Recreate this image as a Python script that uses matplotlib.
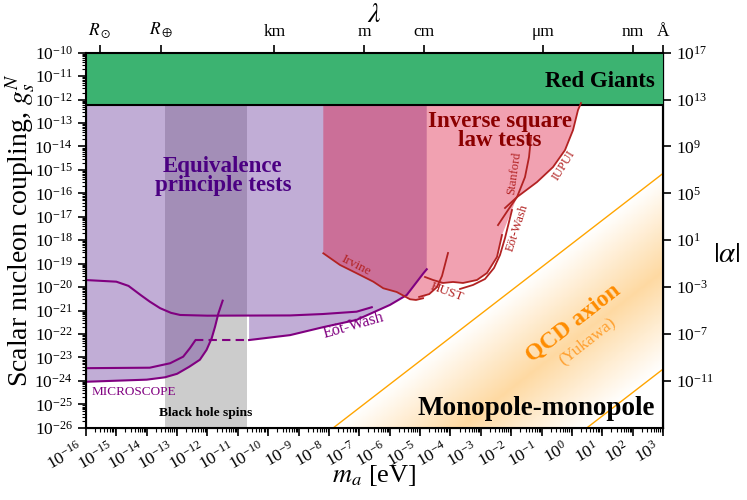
import numpy as np
import matplotlib
matplotlib.use("Agg")
import matplotlib.pyplot as plt
from matplotlib.colors import LinearSegmentedColormap
from matplotlib.ticker import FixedLocator, NullLocator, LogFormatterSciNotation, LogLocator

plt.rcParams['font.family'] = ['Liberation Serif', 'DejaVu Serif']
plt.rcParams['mathtext.fontset'] = 'stix'

# everything below is log10(m_a / eV) and log10(g_s^N)
log_rg = -12.23                 # red giants bound
bh_spins = [-13.40, -10.70]     # black hole superradiance window

# MICROSCOPE (lowest purple curve)
mic_m = np.array([-16, -14.0, -13.4, -13.0, -12.6, -12.25, -12.03, -11.86, -11.75, -11.64, -11.50])
mic_g = np.array([-24.04, -23.95, -23.85, -23.7, -23.4, -23.1, -22.68, -22.18, -21.69, -21.12, -20.58])

# second purple curve (flat then rising, left part)
ep2_m = np.array([-16, -13.9, -13.23, -12.80, -12.58, -12.41])
ep2_g = np.array([-23.46, -23.44, -23.25, -22.97, -22.61, -22.29])
ep2_dash_m = np.array([-12.41, -10.63])
ep2_dash_g = np.array([-22.27, -22.27])

# Eot-Wash (purple, solid part)
ew_m = np.array([-10.63, -9.28, -8.19, -7.09, -5.99, -5.44, -4.89, -4.78])
ew_g = np.array([-22.26, -22.05, -21.71, -21.40, -20.76, -20.34, -19.41, -19.24])

# third purple curve
ep3_m = np.array([-16, -15.0, -14.6, -14.2, -13.9, -13.56, -13.2, -12.9, -12.0, -9.28, -8.2, -7.09, -6.59])
ep3_g = np.array([-19.70, -19.77, -19.95, -20.34, -20.62, -20.90, -21.10, -21.19, -21.22, -21.21, -21.15, -21.05, -20.86])

# inverse square law tests (red curves)
irv_m = np.array([-8.186, -7.636, -7.087, -6.540, -6.211, -5.770, -5.331, -5.134, -4.903])
irv_g = np.array([-18.558, -19.057, -19.411, -19.770, -20.051, -20.209, -20.520, -20.550, -20.478])

hust_a_m = np.array([-4.080, -4.278, -4.443, -4.70, -5.03])
hust_a_g = np.array([-18.545, -19.527, -20.00, -20.30, -20.42])

hust_b_m = np.array([-4.838, -4.574, -4.245, -3.916, -3.587, -3.126, -2.796, -2.467, -2.302])
hust_b_g = np.array([-19.569, -19.697, -19.825, -19.782, -19.825, -19.697, -19.399, -18.716, -17.777])

ewr_m = np.array([-3.685, -3.257, -2.862, -2.566, -2.368, -2.203, -2.072, -1.973])
ewr_g = np.array([-20.081, -19.910, -19.655, -19.186, -18.631, -17.906, -17.223, -16.711])

stan_m = np.array([-2.434, -2.105, -1.808, -1.545, -1.413, -1.347])
stan_g = np.array([-17.355, -16.715, -16.160, -15.307, -14.454, -13.600])

iupui_m = np.array([-2.203, -1.808, -1.150, -0.623, -0.228, 0.036, 0.200, 0.299])
iupui_g = np.array([-16.626, -16.160, -15.520, -14.880, -14.155, -13.302, -12.448, -12.150])

# QCD axion band: log g = log m + offset
qcd_hi = -18.15
qcd_lo = -26.50

# right axis |alpha| = g^2 * 1e37
alpha_scale = 1e37
alpha_ticks = [1e17, 1e13, 1e9, 1e5, 1e1, 1e-3, 1e-7, 1e-11]

# top axis, wavelength in metres
lam_lim = [10**9.308, 10**-10.002]
lam_ticks = [6.957e8, 6.371e6, 1e3, 1.0, 1e-2, 1e-6, 1e-9, 1e-10]
lam_labels = [r'$R_\odot$', r'$R_\oplus$', 'km', 'm', 'cm', 'μm', 'nm', 'Å']

c_purple = '#800080'
c_red = '#b22222'


def P(a):
    return 10.0**np.asarray(a)


fig = plt.figure(figsize=(7.47, 5.0), dpi=100)
ax = fig.add_axes([0.1151, 0.1446, 0.7725, 0.75])
ax.set_xscale('log')
ax.set_yscale('log')
ax.set_xlim(1e-16, 1e3)
ax.set_ylim(1e-26, 1e-10)

# black hole spins
ax.axvspan(P(bh_spins[0]), P(bh_spins[1]), color='#cccccc', lw=0, zorder=1)

# equivalence principle region
cut = mic_m < -11.66
ep_m = np.r_[mic_m[cut], -11.66, ew_m[0], ew_m, ew_m[-1], -16]
ep_g = np.r_[mic_g[cut], -21.22, -21.22, ew_g, log_rg, log_rg]
ax.fill(P(ep_m), P(ep_g), color='rebeccapurple', alpha=0.4, lw=0, zorder=2)

# inverse square law region
isl_m = np.r_[irv_m[0], irv_m, hust_b_m[2:], iupui_m[1:], iupui_m[-1]]
isl_g = np.r_[log_rg, irv_g, hust_b_g[2:], iupui_g[1:], log_rg]
ax.fill(P(isl_m), P(isl_g), color='crimson', alpha=0.4, lw=0, zorder=3)

# QCD axion band with soft gradient (opaque colours, white at the edges)
lm_grid = np.linspace(-8.5, 3, 300)
lg_grid = np.linspace(-26, -14.5, 300)
LM, LG = np.meshgrid(lm_grid, lg_grid)
mid = 0.5 * (qcd_hi + qcd_lo)
half = 0.5 * (qcd_hi - qcd_lo)
w = 1 - np.abs((LG - LM) - mid) / half
w = np.ma.masked_where(w <= 0, w)
cmap = LinearSegmentedColormap.from_list('qcd', ['#ffffff', '#fed9a2'])
ax.pcolormesh(P(lm_grid), P(lg_grid), w, cmap=cmap, vmin=0, vmax=1, shading='nearest',
              zorder=1, rasterized=True)
for off in (qcd_hi, qcd_lo):
    xx = np.array([-26 - off, 3])
    ax.plot(P(xx), P(xx + off), color='orange', lw=1, zorder=2)

# red giants
ax.axhspan(P(log_rg), 1e-10, color='mediumseagreen', lw=0, zorder=4)
ax.axhline(P(log_rg), color='k', lw=1.5, zorder=5)

# purple curves
ax.plot(P(mic_m), P(mic_g), color=c_purple, lw=1.5, zorder=5)
ax.plot(P(ep2_m), P(ep2_g), color=c_purple, lw=1.5, zorder=5)
ax.plot(P(ep2_dash_m), P(ep2_dash_g), color=c_purple, lw=1.5, ls=(0, (4, 2.5)), zorder=5)
ax.plot(P(ew_m), P(ew_g), color=c_purple, lw=1.5, zorder=5)
ax.plot(P(ep3_m), P(ep3_g), color=c_purple, lw=1.5, zorder=5)

# red curves
for cm_, cg_ in [(irv_m, irv_g), (hust_a_m, hust_a_g), (hust_b_m, hust_b_g),
                 (ewr_m, ewr_g), (stan_m, stan_g), (iupui_m, iupui_g)]:
    ax.plot(P(cm_), P(cg_), color=c_red, lw=1.3, zorder=5)

# labels
ax.text(P(2.72), P(-11.24), 'Red Giants', ha='right', va='center', fontsize=16.5, fontweight='bold', zorder=6)
ax.text(P(-11.49), P(-15.25), 'Equivalence\nprinciple tests', ha='center', va='center', fontsize=16.5,
        fontweight='bold', color='indigo', linespacing=0.9, zorder=6)
ax.text(P(-2.37), P(-13.35), 'Inverse square\nlaw tests', ha='center', va='center', fontsize=16.5,
        fontweight='bold', color='darkred', linespacing=0.9, zorder=6)
ax.text(P(2.72), P(-25.2), 'Monopole-monopole', ha='right', va='center', fontsize=19.5, fontweight='bold', zorder=6)
ax.text(P(-12.05), P(-25.37), 'Black hole spins', ha='center', va='center', fontsize=9.7, fontweight='bold', zorder=6)
ax.text(P(-15.80), P(-24.46), 'MICROSCOPE', ha='left', va='center', fontsize=9.5, color=c_purple, zorder=6)
ax.text(P(-7.20), P(-21.62), 'Eöt-Wash', ha='center', va='center', fontsize=11.5, color=c_purple, rotation=16, zorder=6)
ax.text(P(-7.11), P(-19.10), 'Irvine', ha='center', va='center', fontsize=9.5, color=c_red, rotation=-27, zorder=6)
ax.text(P(-4.11), P(-20.21), 'HUST', ha='center', va='center', fontsize=9.5, color=c_red, rotation=-20, zorder=6)
ax.text(P(-1.91), P(-15.13), 'Stanford', ha='center', va='center', fontsize=9, color=c_red, rotation=82, zorder=6)
ax.text(P(-1.78), P(-17.49), 'Eöt-Wash', ha='center', va='center', fontsize=9, color=c_red, rotation=72, zorder=6)
ax.text(P(-0.26), P(-14.79), 'IUPUI', ha='center', va='center', fontsize=9, color=c_red, rotation=58, zorder=6)
ax.text(P(0.036), P(-21.53), 'QCD axion', ha='center', va='center', fontsize=17, fontweight='bold',
        color='darkorange', rotation=38, zorder=6)
ax.text(P(0.50), P(-22.30), '(Yukawa)', ha='center', va='center', fontsize=12.5, color='#ffa030',
        rotation=38, zorder=6)

# axes styling
for s in ax.spines.values():
    s.set_linewidth(1.5)
ax.xaxis.set_major_locator(LogLocator(base=10, numticks=30))
ax.xaxis.set_minor_locator(LogLocator(base=10, subs=np.arange(2, 10), numticks=300))
ax.yaxis.set_major_locator(LogLocator(base=10, numticks=30))
ax.yaxis.set_minor_locator(LogLocator(base=10, subs=np.arange(2, 10), numticks=300))
ax.tick_params(which='major', direction='out', length=6, width=1.2, labelsize=12.5)
ax.tick_params(which='minor', direction='out', length=3, width=0.8)
ax.tick_params(axis='x', which='both', top=False, pad=2)
ax.tick_params(axis='y', which='both', right=False)
for lab in ax.get_xticklabels():
    lab.set_rotation(30)
    lab.set_ha('right')

ax.set_xlabel(r'$m_a$ [eV]', fontsize=19)
ax.xaxis.set_label_coords(0.499, -0.095)
ax.set_ylabel(r'Scalar nucleon coupling, $g_s^N$', fontsize=20)
ax.yaxis.set_label_coords(-0.083, 0.527)

# right axis: |alpha|
sec = ax.secondary_yaxis('right', functions=(lambda g: g**2 * alpha_scale,
                                             lambda a: np.sqrt(np.abs(a) / alpha_scale)))
sec.yaxis.set_major_locator(FixedLocator(alpha_ticks))
sec.yaxis.set_major_formatter(LogFormatterSciNotation())
sec.yaxis.set_minor_locator(NullLocator())
sec.tick_params(direction='out', length=6, width=1.2, labelsize=12.5)
sec.spines['right'].set_linewidth(1.5)
ax.text(1.111, 0.46, r'$|\alpha|$', transform=ax.transAxes, fontsize=21, ha='center', va='center')

# top axis: wavelength
top = ax.twiny()
top.set_xscale('log')
top.set_xlim(*lam_lim)
top.xaxis.set_major_locator(FixedLocator(lam_ticks))
top.set_xticklabels(lam_labels)
top.xaxis.set_minor_locator(NullLocator())
top.tick_params(direction='out', length=6, width=1.2, labelsize=12.5, pad=3)
ax.text(0.50, 1.10, r'$\lambda$', transform=ax.transAxes, fontsize=20, ha='center', va='center')

fig.savefig('out.png', dpi=100)
